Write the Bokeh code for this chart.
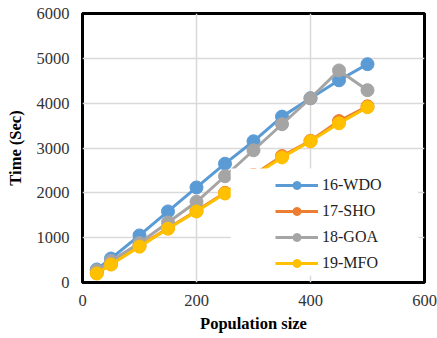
from bokeh.plotting import figure
from bokeh.models import Legend, LegendItem, BoxAnnotation, FixedTicker, Range1d
from bokeh.embed import file_html
from bokeh.resources import INLINE

pop = [25, 50, 100, 150, 200, 250, 300, 350, 400, 450, 500]
wdo = [290, 535, 1050, 1585, 2120, 2650, 3150, 3700, 4110, 4510, 4870]
sho = [210, 410, 820, 1210, 1600, 2000, 2400, 2820, 3160, 3600, 3930]
goa = [270, 480, 880, 1340, 1800, 2370, 2950, 3530, 4110, 4730, 4290]
mfo = [200, 400, 800, 1200, 1585, 1985, 2380, 2790, 3150, 3550, 3910]
names = ["16-WDO", "17-SHO", "18-GOA", "19-MFO"]
colors = ["#5B9BD5", "#ED7D31", "#A5A5A5", "#FFC000"]
series = [wdo, sho, goa, mfo]
x_ticks = [0, 200, 400, 600]
y_ticks = [0, 1000, 2000, 3000, 4000, 5000, 6000]

FONT = "Liberation Serif"

p = figure(width=437, height=338, output_backend="svg", toolbar_location=None,
           x_range=Range1d(0, 600), y_range=Range1d(0, 6000),
           min_border_left=82, min_border_right=13, min_border_top=13, min_border_bottom=56)

p.outline_line_color = "black"
p.outline_line_width = 3
p.background_fill_color = "white"
p.border_fill_color = "white"

for ax in (p.xaxis[0], p.yaxis[0]):
    ax.axis_line_color = None
    ax.major_tick_line_color = None
    ax.minor_tick_line_color = None
    ax.major_tick_out = 0
    ax.major_tick_in = 0
    ax.major_label_text_font = FONT
    ax.major_label_text_font_size = "16.5px"
    ax.major_label_text_color = "#333333"
    ax.axis_label_text_font = FONT
    ax.axis_label_text_font_size = "16.5px"
    ax.axis_label_text_font_style = "bold"
    ax.axis_label_text_color = "black"

p.xaxis.ticker = FixedTicker(ticks=x_ticks)
p.yaxis.ticker = FixedTicker(ticks=y_ticks)
p.xaxis.axis_label = "Population size"
p.yaxis.axis_label = "Time (Sec)"
p.xaxis.major_label_standoff = 12
p.yaxis.major_label_standoff = 13
p.xaxis.axis_label_standoff = 5
p.yaxis.axis_label_standoff = 9

p.xgrid.grid_line_color = "#D9D9D9"
p.ygrid.grid_line_color = "#D9D9D9"
p.xgrid.grid_line_width = 1.5
p.ygrid.grid_line_width = 1.5

items = []
for name, col, ys in zip(names, colors, series):
    l = p.line(pop, ys, line_color=col, line_width=3)
    s = p.scatter(pop, ys, size=13, fill_color=col, line_color=col)
    items.append(LegendItem(label=name, renderers=[l, s]))

box = BoxAnnotation(left=260, right=589, bottom=150, top=2540,
                    fill_color="white", fill_alpha=1.0, line_color=None)
p.add_layout(box)

legend = Legend(items=items, location=(193, 9), background_fill_alpha=0,
                border_line_color=None, glyph_width=43, glyph_height=20,
                label_height=20, spacing=6, label_standoff=4, padding=0,
                label_text_font=FONT, label_text_font_size="16px",
                label_text_color="#222222")
p.add_layout(legend)

open("out.html", "w").write(file_html(p, INLINE))
